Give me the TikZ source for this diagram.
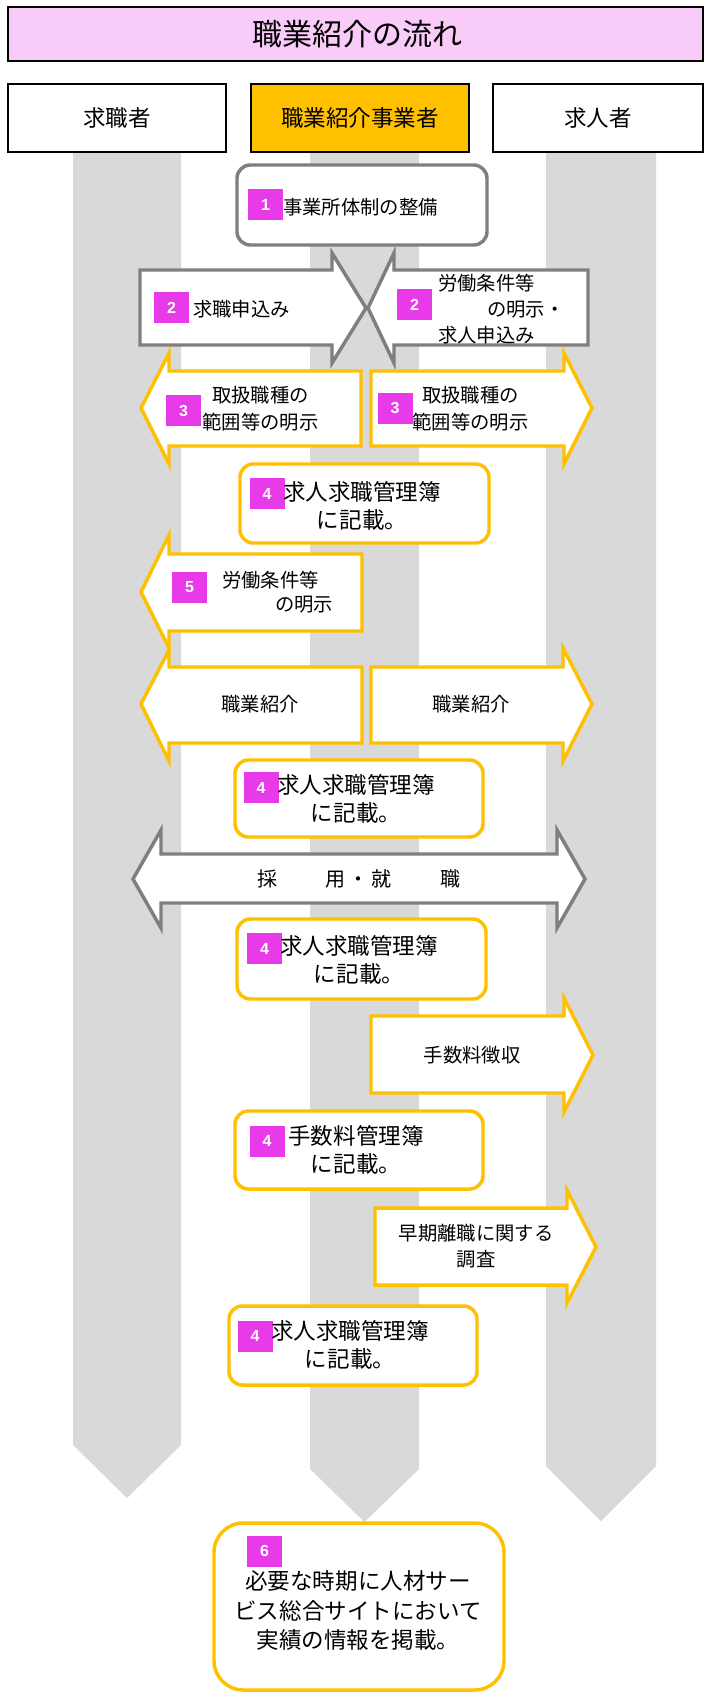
\documentclass[tikz,border=0pt]{standalone}
\usepackage{fontspec}
\setmainfont{Noto Sans CJK JP}
\newfontfamily\numf{Liberation Sans}
\definecolor{lanegray}{HTML}{D9D9D9}
\definecolor{strokegray}{HTML}{7F7F7F}
\definecolor{orng}{HTML}{FFC000}
\definecolor{badgec}{HTML}{E93AE9}
\definecolor{titlepink}{HTML}{F9CBF9}
\newcommand\cb[1]{\makebox[17.25pt]{#1}}
\tikzset{
  lane/.style={fill=lanegray, draw=none},
  hdrbox/.style={draw=black, line width=1.5pt, fill=white},
  garrow/.style={draw=strokegray, line width=2.6pt, fill=white},
  oarrow/.style={draw=orng, line width=2.6pt, fill=white},
  gbox/.style={draw=strokegray, line width=2.6pt, fill=white, rounded corners=10pt},
  obox/.style={draw=orng, line width=2.6pt, fill=white, rounded corners=10pt},
  badge/.style={fill=badgec, text=white, minimum width=26.25pt, minimum height=23.25pt, inner sep=0pt, font=\numf\bfseries\fontsize{12}{12}\selectfont},
  txt/.style={inner sep=0pt, align=center, font=\fontsize{14.5}{20}\selectfont},
  txtbig/.style={inner sep=0pt, align=center, font=\fontsize{16.9}{21}\selectfont},
}
\begin{document}
\begin{tikzpicture}[x=0.75pt,y=-0.75pt]
\useasboundingbox (0,0) rectangle (704,1693);
\clip (0,0) rectangle (704,1693);
\fill[white] (0,0) rectangle (704,1693);
% lanes
\fill[lane] (73,152) -- (181,152) -- (181,1445) -- (127,1498) -- (73,1445) -- cycle;
\fill[lane] (310,152) -- (419,152) -- (419,1469) -- (364.5,1522) -- (310,1469) -- cycle;
\fill[lane] (546,152) -- (656,152) -- (656,1466) -- (601,1521) -- (546,1466) -- cycle;
% title and headers
\draw[hdrbox, fill=titlepink] (8,7) rectangle (703,61);
\node[inner sep=0pt, font=\fontsize{22.5}{24}\selectfont] (title) at (357,34) {職業紹介の流れ};
\draw[hdrbox] (8,84) rectangle (226,152);
\node[inner sep=0pt, font=\fontsize{16.9}{18}\selectfont] (h1) at (117,118) {求職者};
\draw[hdrbox, fill=orng] (250.5,84) rectangle (469,152);
\node[inner sep=0pt, font=\fontsize{16.9}{18}\selectfont] (h2) at (360,118) {職業紹介事業者};
\draw[hdrbox] (493,84) rectangle (703,152);
\node[inner sep=0pt, font=\fontsize{16.9}{18}\selectfont] (h3) at (598,118) {求人者};
% step 1
\draw[gbox] (237,165) rectangle (487,245);
\node[badge] (b1) at (265.5,204.5) {1};
\node[txt, anchor=west] (t1) at (283,207) {事業所体制の整備};
% step 2
\draw[garrow] (140,270) -- (332,270) -- (332,253) -- (366,308) -- (332,363) -- (332,345) -- (140,345) -- cycle;
\draw[garrow] (588,270) -- (394,270) -- (394,253) -- (368,308) -- (394,363) -- (394,345) -- (588,345) -- cycle;
\node[badge] (b2l) at (171.5,307.5) {2};
\node[txt, anchor=west] (t2l) at (193,309) {求職申込み};
\node[badge] (b2r) at (414.5,304.5) {2};
\node[txt, align=left, anchor=west, font=\fontsize{14.5}{19.5}\selectfont] (t2r) at (438,309) {労働条件等\\\hspace*{36.75pt}の明示・\\求人申込み};
% step 3
\draw[oarrow] (361,371) -- (169,371) -- (169,353) -- (141,408) -- (169,464) -- (169,446) -- (361,446) -- cycle;
\draw[oarrow] (371,371) -- (564,371) -- (564,353) -- (592,408) -- (564,464) -- (564,446) -- (371,446) -- cycle;
\node[badge] (b3l) at (183.5,410.5) {3};
\node[txt] (t3l) at (260.5,408.5) {取扱職種の\\範囲等の明示};
\node[badge] (b3r) at (395,408) {3};
\node[txt] (t3r) at (470.5,408.5) {取扱職種の\\範囲等の明示};
% step 4a
\draw[obox] (240,464) rectangle (489,543);
\node[badge] (b4a) at (267,493.5) {4};
\node[txtbig] (t4a) at (362,506) {求人求職管理簿\\に記載。};
% step 5
\draw[oarrow] (362,554) -- (169,554) -- (169,535) -- (141,592) -- (169,648) -- (169,631) -- (362,631) -- cycle;
\node[badge] (b5) at (189.5,587.5) {5};
\node[txt, align=left, anchor=west, font=\fontsize{14.5}{18}\selectfont] (t5) at (222,592) {労働条件等\\\hspace*{39.75pt}の明示};
% shokugyo shokai
\draw[oarrow] (362,667) -- (169,667) -- (169,650) -- (141,704) -- (169,761) -- (169,743) -- (362,743) -- cycle;
\draw[oarrow] (371,667) -- (563,667) -- (563,648) -- (592,704) -- (563,761) -- (563,743) -- (371,743) -- cycle;
\node[txt] (tsl) at (260,704) {職業紹介};
\node[txt] (tsr) at (471,704) {職業紹介};
% step 4b
\draw[obox] (235,760) rectangle (483,837);
\node[badge] (b4b) at (261,787.5) {4};
\node[txtbig] (t4b) at (356,799) {求人求職管理簿\\に記載。};
% saiyo shushoku
\draw[garrow] (161,854) -- (557,854) -- (557,830) -- (585,879) -- (557,928) -- (557,903) -- (161,903) -- (161,928) -- (133,879) -- (161,830) -- cycle;
\node[txt, font=\fontsize{15}{16}\selectfont] (tsy) at (359,879) {\cb{採}\cb{}\cb{}\cb{用}\cb{・}\cb{就}\cb{}\cb{}\cb{職}};
% step 4c
\draw[obox] (237,919) rectangle (486,999);
\node[badge] (b4c) at (264.5,948.5) {4};
\node[txtbig] (t4c) at (359,959.5) {求人求職管理簿\\に記載。};
% fee
\draw[oarrow] (371,1016) -- (564,1016) -- (564,998) -- (593,1055) -- (564,1112) -- (564,1093) -- (371,1093) -- cycle;
\node[txt] (tfee) at (472,1055) {手数料徴収};
% step 4d
\draw[obox] (235,1111) rectangle (483,1189);
\node[badge] (b4d) at (267,1141) {4};
\node[txtbig] (t4d) at (356,1150) {手数料管理簿\\に記載。};
% survey
\draw[oarrow] (375,1208) -- (567,1208) -- (567,1190) -- (596,1247) -- (567,1303) -- (567,1285) -- (375,1285) -- cycle;
\node[txt, font=\fontsize{14.5}{19.5}\selectfont] (tsv) at (476,1246) {早期離職に関する\\調査};
% step 4e
\draw[obox] (229,1306) rectangle (477,1385);
\node[badge] (b4e) at (255,1336) {4};
\node[txtbig] (t4e) at (350,1345) {求人求職管理簿\\に記載。};
% step 6
\draw[obox, rounded corners=22pt] (214,1523) rectangle (504,1690);
\node[badge] (b6) at (264.5,1551) {6};
\node[txtbig, font=\fontsize{16.9}{22}\selectfont] (t6) at (358,1610.5) {必要な時期に人材サー\\ビス総合サイトにおいて\\実績の情報を掲載。};
\end{tikzpicture}
\end{document}
